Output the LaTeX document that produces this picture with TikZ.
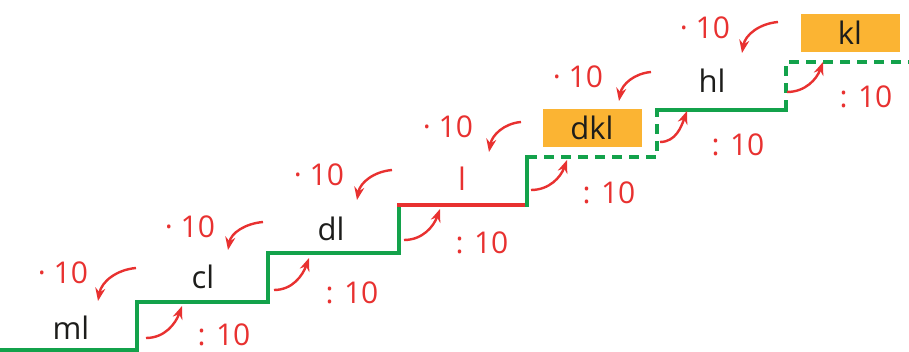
\documentclass[tikz,border=0pt]{standalone}
\usepackage{fontspec}
\setmainfont{Open Sans}
\usetikzlibrary{arrows.meta}
\definecolor{stgreen}{HTML}{13A24B}
\definecolor{stred}{HTML}{E83130}
\definecolor{storange}{HTML}{FBB433}
\definecolor{sttext}{HTML}{1D1D1B}
\tikzset{/ST/unit/.style={
	font=\fontsize{31}{31}\selectfont, text=sttext, inner sep=0, text height=23pt, text depth=0pt
}}
\tikzset{/ST/box/.style={
	/ST/unit, fill=storange, minimum width=99pt, minimum height=38pt
}}
\tikzset{/ST/num/.style={
	font=\fontsize{30}{30}\selectfont, text=stred, inner sep=0, text height=21pt, text depth=0pt
}}
\tikzset{/ST/tread/.style={
	draw=stgreen, line width=3.5pt, line cap=rect
}}
\tikzset{/ST/gap/.style={
	/ST/tread, line cap=butt, dash pattern=on 10pt off 7pt
}}
\tikzset{/ST/conv/.style={
	draw=stred, line width=2.4pt, -{Stealth[length=13pt, width=10pt]}
}}

\begin{document}
\begin{tikzpicture}[x=1pt, y=1pt]
				\useasboundingbox (0,0) rectangle (909,352);
				% the stairs
				\draw[/ST/tread] (0,2) -| (137,50) -| (268,99) -| (399,147);
				\draw[/ST/tread, draw=stred] (399,147) -- (527,147);
				\draw[/ST/tread] (527,147) -- (527,195);
				\draw[/ST/gap] (527,195) -| (657,242);
				\draw[/ST/tread] (657,242) -- (786,242);
				\draw[/ST/gap] (786,242) |- (909,290);
				% units
				\path (71,24) node[/ST/unit] (ml) {ml};
				\path (203,75) node[/ST/unit] (cl) {cl};
				\path (331,123) node[/ST/unit] (dl) {dl};
				\path (462,173) node[/ST/unit, text=stred] (l) {l};
				\path (592,224) node[/ST/box] (dkl) {dkl};
				\path (712,271) node[/ST/unit] (hl) {hl};
				\path (850,319) node[/ST/box] (kl) {kl};
				% times ten, going down
				\path (ml.center) ++ (-8,55) node[/ST/num] (m1) {· 10};
				\path (cl.center) ++ (-13,50) node[/ST/num] (m2) {· 10};
				\path (dl.center) ++ (-12,54) node[/ST/num] (m3) {· 10};
				\path (l.center) ++ (-14,52) node[/ST/num] (m4) {· 10};
				\path (dkl.center) ++ (-14,51) node[/ST/num] (m5) {· 10};
				\path (hl.center) ++ (-7,53) node[/ST/num] (m6) {· 10};
				% divided by ten, going up
				\path (cl.center) ++ (21,-58) node[/ST/num] (d1) {: 10};
				\path (dl.center) ++ (21,-64) node[/ST/num] (d2) {: 10};
				\path (l.center) ++ (20,-64) node[/ST/num] (d3) {: 10};
				\path (dkl.center) ++ (17,-65) node[/ST/num] (d4) {: 10};
				\path (hl.center) ++ (26,-64) node[/ST/num] (d5) {: 10};
				\path (kl.center) ++ (16,-64) node[/ST/num] (d6) {: 10};
				\draw[/ST/conv] ([shift={(73,5)}]m1.center) to[out=185, in=80] ([shift={(27,27)}]ml.center);
				\draw[/ST/conv] ([shift={(73,5)}]m2.center) to[out=185, in=80] ([shift={(25,27)}]cl.center);
				\draw[/ST/conv] ([shift={(73,5)}]m3.center) to[out=185, in=80] ([shift={(26,29)}]dl.center);
				\draw[/ST/conv] ([shift={(73,5)}]m4.center) to[out=185, in=80] ([shift={(27,27)}]l.center);
				\draw[/ST/conv] ([shift={(73,5)}]m5.center) to[out=185, in=80] ([shift={(27,27)}]dkl.center);
				\draw[/ST/conv] ([shift={(73,6)}]m6.center) to[out=185, in=80] ([shift={(30,28)}]hl.center);
				\draw[/ST/conv] ([shift={(-78,-3)}]d1.center) to[out=0, in=-110] ([shift={(-21,-29)}]cl.center);
				\draw[/ST/conv] ([shift={(-78,3)}]d2.center) to[out=0, in=-110] ([shift={(-22,-29)}]dl.center);
				\draw[/ST/conv] ([shift={(-78,3)}]d3.center) to[out=0, in=-110] ([shift={(-22,-30)}]l.center);
				\draw[/ST/conv] ([shift={(-78,3)}]d4.center) to[out=0, in=-110] ([shift={(-25,-32)}]dkl.center);
				\draw[/ST/conv] ([shift={(-78,3)}]d5.center) to[out=0, in=-110] ([shift={(-25,-30)}]hl.center);
				\draw[/ST/conv] ([shift={(-79,5)}]d6.center) to[out=0, in=-110] ([shift={(-27,-29)}]kl.center);
			\end{tikzpicture}
\end{document}
